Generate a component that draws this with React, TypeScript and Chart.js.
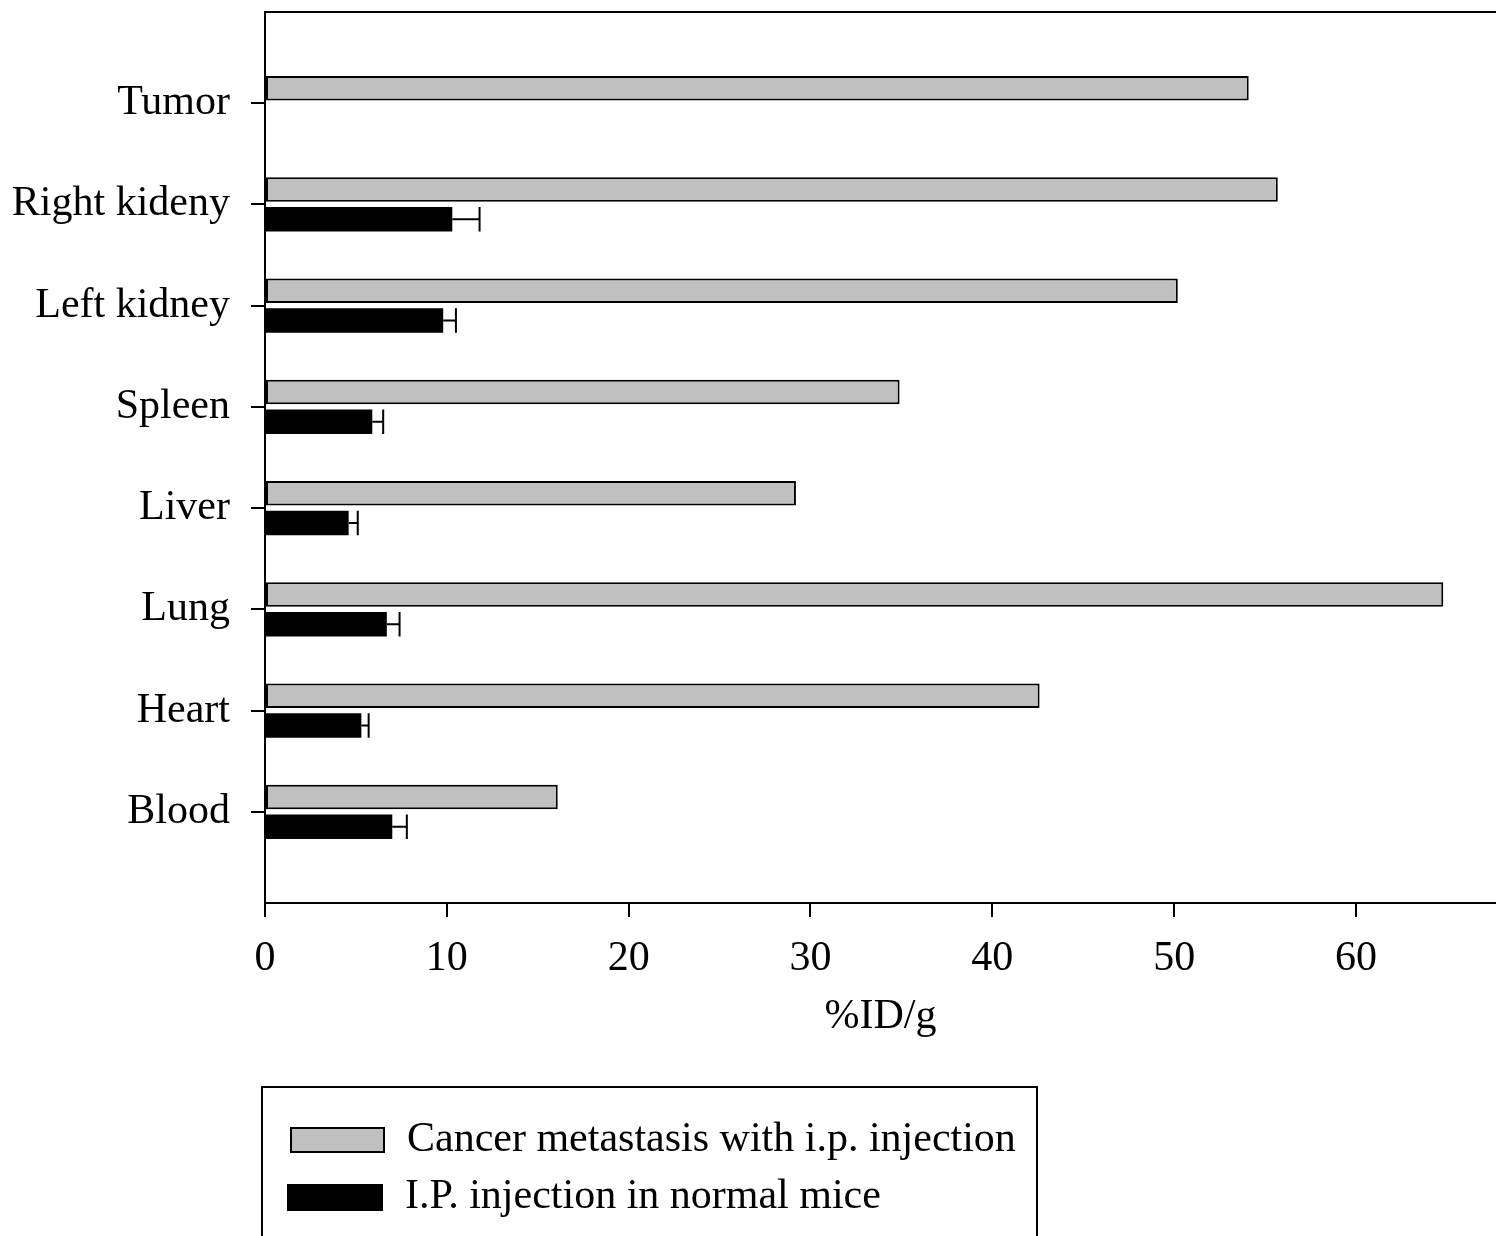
import React, { useEffect, useRef } from "react";
import { Chart, registerables } from "chart.js";

Chart.register(...registerables);

const organs = ["Tumor", "Right kideny", "Left kidney", "Spleen", "Liver", "Lung", "Heart", "Blood"];
const metastasis = [54.1, 55.7, 50.2, 34.9, 29.2, 64.8, 42.6, 16.1];
const normal: (number | null)[] = [null, 10.3, 9.8, 5.9, 4.6, 6.7, 5.3, 7.0];
const normalErrTop: (number | null)[] = [null, 11.8, 10.5, 6.5, 5.1, 7.4, 5.7, 7.8];
const xTicks = [0, 10, 20, 30, 40, 50, 60];
const seriesNames = ["Cancer metastasis with i.p. injection", "I.P. injection in normal mice"];

const FONT = "'Liberation Serif', 'Times New Roman', serif";

const errorBarPlugin = {
  id: "errorBars",
  afterDatasetsDraw(chart: any) {
    const meta = chart.getDatasetMeta(1);
    const xs = chart.scales.x;
    const ctx = chart.ctx;
    ctx.save();
    ctx.strokeStyle = "#000";
    ctx.lineWidth = 2;
    meta.data.forEach((bar: any, i: number) => {
      const e = normalErrTop[i];
      if (e == null || normal[i] == null) return;
      const x0 = bar.x;
      const x1 = xs.getPixelForValue(e);
      const y = bar.y;
      const h = bar.height;
      ctx.beginPath();
      ctx.moveTo(x0, y);
      ctx.lineTo(x1, y);
      ctx.moveTo(x1, y - h / 2);
      ctx.lineTo(x1, y + h / 2);
      ctx.stroke();
    });
    ctx.restore();
  },
};

const framePlugin = {
  id: "frame",
  afterDraw(chart: any) {
    const { ctx, chartArea } = chart;
    ctx.save();
    ctx.strokeStyle = "#000";
    ctx.lineWidth = 2;
    ctx.beginPath();
    ctx.moveTo(chartArea.left - 1, chartArea.top);
    ctx.lineTo(chart.width, chartArea.top);
    ctx.stroke();
    ctx.restore();
  },
};

const legendPlugin = {
  id: "customLegend",
  afterDraw(chart: any) {
    const ctx = chart.ctx;
    ctx.save();
    ctx.strokeStyle = "#000";
    ctx.lineWidth = 2;
    ctx.strokeRect(262, 1087, 775, 170);
    const ds = chart.data.datasets;
    const rows = [
      { sx: 290, sy: 1127, sw: 95, sh: 26, tx: 407, ty: 1140 },
      { sx: 287, sy: 1184, sw: 96, sh: 27, tx: 405, ty: 1197 },
    ];
    rows.forEach((r, i) => {
      ctx.fillStyle = ds[i].backgroundColor;
      ctx.fillRect(r.sx, r.sy, r.sw, r.sh);
      ctx.strokeStyle = "#000";
      ctx.lineWidth = 2;
      ctx.strokeRect(r.sx + 1, r.sy + 1, r.sw - 2, r.sh - 2);
      ctx.fillStyle = "#000";
      ctx.font = `42px ${FONT}`;
      ctx.textBaseline = "middle";
      ctx.textAlign = "left";
      ctx.fillText(ds[i].label, r.tx, r.ty);
    });
    ctx.restore();
  },
};

export default function App() {
  const ref = useRef<HTMLCanvasElement>(null);
  useEffect(() => {
    if (!ref.current) return;
    const chart = new Chart(ref.current, {
      type: "bar",
      data: {
        datasets: [
          {
            label: seriesNames[0],
            data: organs.map((_, i) => ({ x: metastasis[i], y: i })) as any,
            backgroundColor: "#c0c0c0",
            borderColor: "#000",
            borderWidth: 2,
            borderSkipped: false,
            categoryPercentage: 0.59,
            barPercentage: 0.82,
          },
          {
            label: seriesNames[1],
            data: organs.map((_, i) => ({ x: normal[i], y: i })) as any,
            backgroundColor: "#000",
            borderColor: "#000",
            borderWidth: 0,
            categoryPercentage: 0.59,
            barPercentage: 0.82,
          },
        ],
      },
      options: {
        indexAxis: "y",
        animation: false,
        responsive: true,
        maintainAspectRatio: false,
        layout: { padding: { top: 12, right: 0, left: 0, bottom: 0 } },
        plugins: { legend: { display: false }, tooltip: { enabled: false } },
        scales: {
          x: {
            type: "linear",
            min: 0,
            max: 67.7,
            offset: false,
            afterBuildTicks: (scale: any) => {
              scale.ticks = xTicks.map((v) => ({ value: v }));
            },
            afterFit: (scale: any) => {
              scale.height = 333;
              scale.paddingLeft = 0;
              scale.paddingRight = 0;
            },
            grid: { display: true, offset: false, drawOnChartArea: false, drawTicks: true, tickLength: 14, color: "#000", lineWidth: 2 },
            border: { display: true, color: "#000", width: 2 },
            ticks: { color: "#000", font: { family: FONT, size: 42 }, padding: 17, maxRotation: 0 },
            title: { display: true, text: "%ID/g", color: "#000", font: { family: FONT, size: 42 }, padding: { top: 0, bottom: 194 } },
          },
          y: {
            type: "linear",
            reverse: true,
            min: -0.9,
            max: 7.9,
            offset: false,
            afterBuildTicks: (scale: any) => {
              scale.ticks = organs.map((_, i) => ({ value: i }));
            },
            afterFit: (scale: any) => {
              scale.width = 265;
              scale.paddingTop = 0;
              scale.paddingBottom = 0;
            },
            grid: { display: true, offset: false, drawOnChartArea: false, drawTicks: true, tickLength: 14, color: "#000", lineWidth: 2 },
            border: { display: true, color: "#000", width: 2 },
            ticks: {
              color: "#000",
              font: { family: FONT, size: 42 },
              padding: 21,
              callback: (v: any) => organs[Math.round(Number(v))] ?? "",
            },
          },
        },
      },
      plugins: [errorBarPlugin, framePlugin, legendPlugin],
    });
    return () => chart.destroy();
  }, []);
  return (
    <div style={{ position: "fixed", left: 0, top: 0, width: 1496, height: 1236, background: "#fff" }}>
      <canvas ref={ref} />
    </div>
  );
}
